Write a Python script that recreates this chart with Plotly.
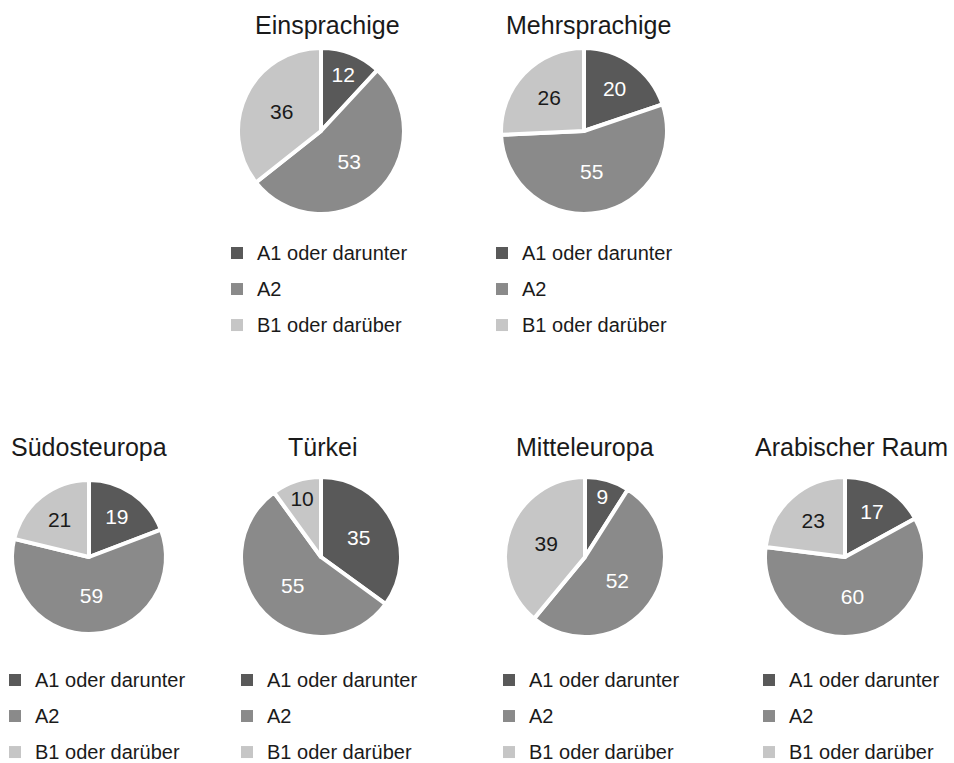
import plotly.graph_objects as go

W, H = 954, 763

categories = ["A1 oder darunter", "A2", "B1 oder darüber"]
colors = ["#595959", "#8a8a8a", "#c6c6c6"]
text_colors = ["#ffffff", "#ffffff", "#1a1a1a"]

groups = ["Einsprachige", "Mehrsprachige", "Südosteuropa", "Türkei", "Mitteleuropa", "Arabischer Raum"]
a1_values = [12, 20, 19, 35, 9, 17]
a2_values = [53, 55, 59, 55, 52, 60]
b1_values = [36, 26, 21, 10, 39, 23]

# layout (px): pie centre, radius, title centre, legend swatch left / first row centre
pie_cx = [321, 584, 89, 321, 585, 845]
pie_cy = [131, 131, 557, 557, 557, 557]
pie_r = [81, 81, 75, 78, 78, 78]
title_x = [327, 588, 89, 322, 585, 851]
title_y = [25, 25, 446.5, 446.5, 446.5, 446.5]
leg_x = [237, 502, 15, 247, 509, 769]
leg_y = [253, 253, 680, 680, 680, 680]

BORDER = 4
FONT = "Liberation Sans, Arial, sans-serif"
TXT = "#1a1a1a"
LEG_SIZE = 20

fig = go.Figure()
layout_legends = {}
annotations = []
for i, g in enumerate(groups):
    R = pie_r[i] + BORDER / 2
    cx, cy = pie_cx[i], pie_cy[i]
    lname = "legend" if i == 0 else f"legend{i + 1}"
    fig.add_trace(go.Pie(
        labels=categories,
        values=[a1_values[i], a2_values[i], b1_values[i]],
        sort=False,
        direction="clockwise",
        rotation=0,
        marker=dict(colors=colors, line=dict(color="white", width=BORDER)),
        textinfo="value",
        textposition="inside",
        insidetextorientation="horizontal",
        textfont=dict(family=FONT, size=21, color=text_colors),
        domain=dict(x=[(cx - R) / W, (cx + R) / W], y=[1 - (cy + R) / H, 1 - (cy - R) / H]),
        showlegend=False,
        name=g,
        hoverinfo="label+value",
    ))
    # legend entries (one per category) for this pie
    for c, col in zip(categories, colors):
        fig.add_trace(go.Scatter(
            x=[None], y=[None], mode="markers",
            marker=dict(symbol="square", size=12, color=col, line=dict(width=0)),
            name=f'<span style="font-size:{LEG_SIZE}px;baseline-shift:3px">{c}</span>',
            legend=lname, showlegend=True, hoverinfo="skip",
        ))
    layout_legends[lname] = dict(
        x=(leg_x[i] - 20) / W, y=1 - (leg_y[i] - 23) / H,
        xanchor="left", yanchor="top",
        orientation="v",
        font=dict(family=FONT, size=25.4, color=TXT),
        bgcolor="rgba(0,0,0,0)",
        traceorder="normal",
        itemsizing="trace",
    )
    annotations.append(dict(
        text=g, x=title_x[i] / W, y=1 - title_y[i] / H,
        xref="paper", yref="paper", xanchor="center", yanchor="middle",
        showarrow=False, font=dict(family=FONT, size=25, color=TXT),
    ))

fig.update_layout(
    width=W, height=H,
    margin=dict(l=0, r=0, t=0, b=0, autoexpand=False),
    paper_bgcolor="white",
    plot_bgcolor="white",
    showlegend=True,
    xaxis=dict(visible=False),
    yaxis=dict(visible=False),
    annotations=annotations,
    **layout_legends,
)

fig.write_html("out.html")
